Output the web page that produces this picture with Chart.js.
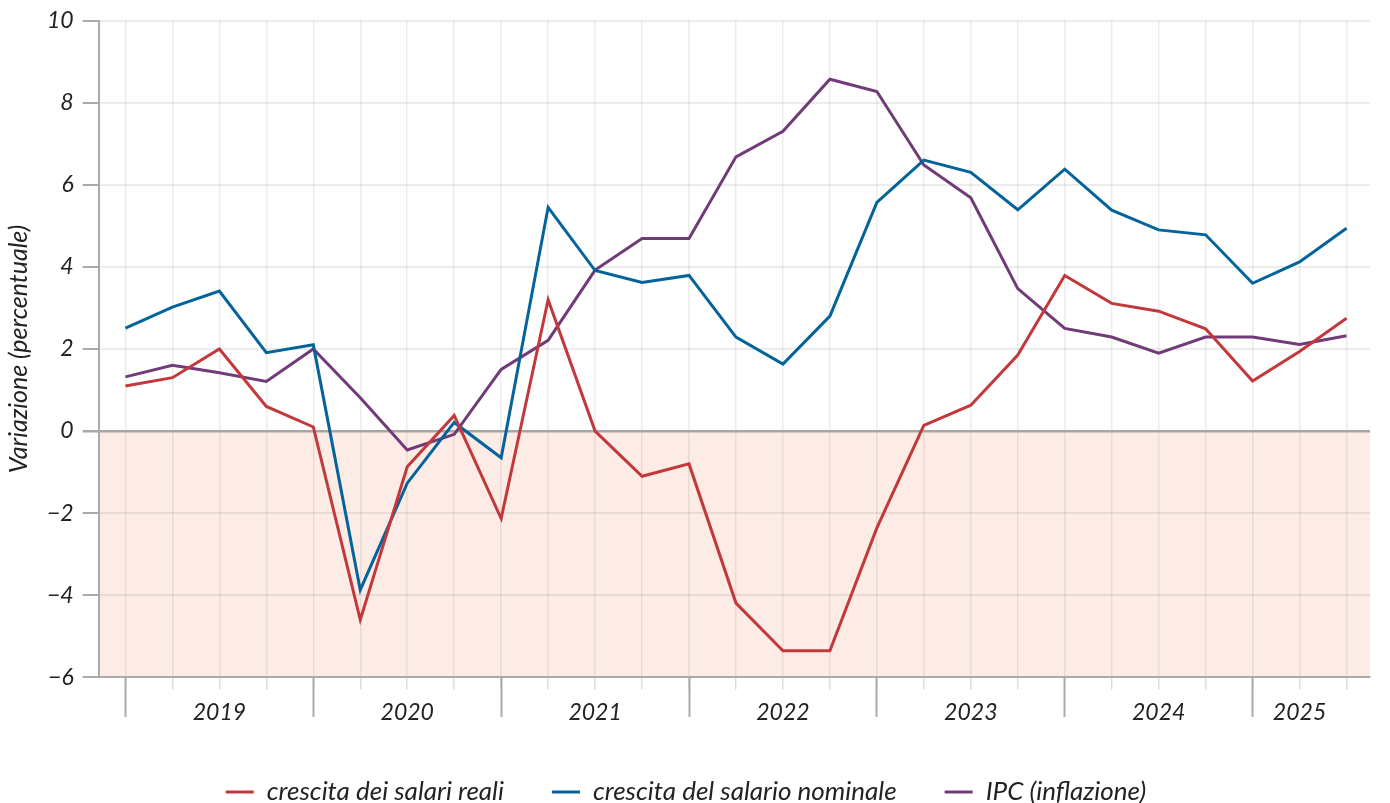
<!DOCTYPE html>
<html lang="it">
<head>
<meta charset="utf-8">
<title>Salari reali, nominali e inflazione</title>
<script src="https://cdn.jsdelivr.net/npm/chart.js@4.4.1/dist/chart.umd.min.js"></script>
<style>
    html, body { margin: 0; padding: 0; background: #fff; }
    #wrap { width: 1390px; height: 803px; position: relative; }
</style>
</head>
<body>
<div id="wrap"><canvas id="wageChart"></canvas></div>
<script>
// Quarters 2019 T1 .. 2025 T3
const quarters = [
    "2019-T1", "2019-T2", "2019-T3", "2019-T4",
    "2020-T1", "2020-T2", "2020-T3", "2020-T4",
    "2021-T1", "2021-T2", "2021-T3", "2021-T4",
    "2022-T1", "2022-T2", "2022-T3", "2022-T4",
    "2023-T1", "2023-T2", "2023-T3", "2023-T4",
    "2024-T1", "2024-T2", "2024-T3", "2024-T4",
    "2025-T1", "2025-T2", "2025-T3"
];

const realWages = [
    1.1, 1.3, 2.0, 0.6, 0.1, -4.6, -0.87, 0.38, -2.13, 3.2,
    0.0, -1.1, -0.8, -4.19, -5.35, -5.35, -2.36, 0.14, 0.63, 1.85,
    3.79, 3.11, 2.92, 2.49, 1.22, 1.94, 2.75
];
const nominalWages = [
    2.51, 3.02, 3.41, 1.91, 2.1, -3.87, -1.27, 0.21, -0.65, 5.45,
    3.91, 3.62, 3.79, 2.29, 1.63, 2.8, 5.57, 6.6, 6.3, 5.39,
    6.38, 5.38, 4.9, 4.78, 3.6, 4.12, 4.94
];
const cpi = [
    1.32, 1.6, 1.42, 1.21, 2.0, 0.81, -0.46, -0.08, 1.5, 2.21,
    3.92, 4.69, 4.69, 6.68, 7.3, 8.57, 8.27, 6.48, 5.68, 3.47,
    2.5, 2.29, 1.9, 2.29, 2.29, 2.11, 2.32
];

// year labels sit in the middle of each year block (index into quarters)
const yearLabels = { 2: "2019", 6: "2020", 10: "2021", 14: "2022", 18: "2023", 22: "2024", 25: "2025" };
const yearStarts = [0, 4, 8, 12, 16, 20, 24];

const seriesNames = ["crescita dei salari reali", "crescita del salario nominale", "IPC (inflazione)"];
const seriesColors = ["#c2383b", "#03639a", "#713a78"];

const FONT = "Lato, 'Open Sans', sans-serif";
const X_MIN = -0.57, X_MAX = 26.5;

function toPoints(values) {
    return values.map((v, i) => ({ x: i, y: v }));
}

// pale band below zero, drawn under the grid
const negativeBand = {
    id: "negativeBand",
    beforeDraw(chart) {
        const { ctx, chartArea, scales } = chart;
        const y0 = scales.y.getPixelForValue(0);
        ctx.save();
        ctx.fillStyle = "#fcece5";
        ctx.fillRect(chartArea.left, y0, chartArea.right - chartArea.left, chartArea.bottom - y0);
        ctx.restore();
    }
};

const datasets = [realWages, nominalWages, cpi].map((vals, i) => ({
    label: seriesNames[i],
    data: toPoints(vals),
    borderColor: seriesColors[i],
    backgroundColor: seriesColors[i],
    borderWidth: 3,
    pointRadius: 0,
    tension: 0,
    fill: false
}));

new Chart(document.getElementById("wageChart"), {
    type: "line",
    data: { datasets: datasets },
    plugins: [negativeBand],
    options: {
        responsive: true,
        maintainAspectRatio: false,
        animation: false,
        layout: { padding: { top: 1, right: 20, left: 2, bottom: -12 } },
        plugins: {
            tooltip: { enabled: false },
            legend: {
                position: "bottom",
                labels: {
                    usePointStyle: true,
                    pointStyle: "line",
                    pointStyleWidth: 28,
                    padding: 48,
                    color: "#222",
                    font: { family: FONT, size: 26, style: "italic" }
                }
            }
        },
        scales: {
            x: {
                type: "linear",
                min: X_MIN,
                max: X_MAX,
                afterBuildTicks: (scale) => {
                    scale.ticks = quarters.map((q, i) => ({ value: i }));
                },
                // let the plot sit a little lower, closer to the legend
                afterFit: (scale) => { scale.height -= 4; },
                grid: {
                    color: "rgba(0,0,0,0.075)",
                    lineWidth: 1.5,
                    tickLength: 12,
                    tickColor: "#dddddd"
                },
                border: { display: true, color: "#aaaaaa", width: 2 },
                ticks: {
                    autoSkip: false,
                    maxRotation: 0,
                    padding: 9,
                    color: "#222",
                    font: { family: FONT, size: 23, style: "italic" },
                    callback: (v) => yearLabels[v] || ""
                }
            },
            xMajor: {
                type: "linear",
                axis: "x",
                position: { y: -6 },
                min: X_MIN,
                max: X_MAX,
                afterBuildTicks: (scale) => {
                    scale.ticks = yearStarts.map(v => ({ value: v }));
                },
                grid: {
                    drawOnChartArea: false,
                    tickLength: 40,
                    tickColor: "#aaaaaa",
                    tickWidth: 2
                },
                border: { display: false },
                ticks: { display: false }
            },
            y: {
                min: -6,
                max: 10,
                ticks: {
                    stepSize: 2,
                    padding: 9,
                    color: "#222",
                    font: { family: FONT, size: 23, style: "italic", lineHeight: 1.0 },
                    callback: (v) => v < 0 ? "\u2212" + Math.abs(v) : String(v)
                },
                grid: {
                    color: (c) => c.tick && c.tick.value === 0 ? "#a8a5a2" : "rgba(0,0,0,0.075)",
                    lineWidth: (c) => c.tick && c.tick.value === 0 ? 2.5 : 2,
                    tickLength: 16,
                    tickColor: "#aaaaaa"
                },
                border: { display: true, color: "#aaaaaa", width: 2 },
                title: {
                    display: true,
                    text: "Variazione (percentuale)",
                    color: "#222",
                    padding: { top: 2, bottom: 4 },
                    font: { family: FONT, size: 25, style: "italic" }
                }
            }
        }
    }
});
</script>
</body>
</html>
